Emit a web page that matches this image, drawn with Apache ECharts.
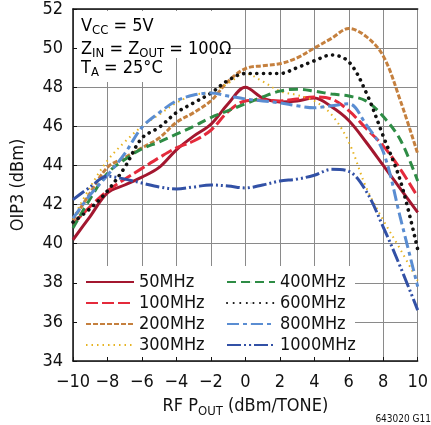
<!DOCTYPE html>
<html><head><meta charset="utf-8">
<script src="https://cdn.jsdelivr.net/npm/echarts@6/dist/echarts.min.js"></script>
<style>html,body{margin:0;padding:0;background:#fff}#c{width:431px;height:425px}</style>
</head><body><div id="c"></div>
<script>
// ---- data ----
const xs = [-10,-9,-8,-7,-6,-5,-4,-3,-2,-1,0,1,2,3,4,5,6,7,8,9,10];
const oip50   = [40.2,41.4,42.6,43.0,43.4,43.9,44.8,45.5,46.1,47.15,48.0,47.45,47.25,47.3,47.45,47.0,46.3,45.2,44.0,42.8,41.6];
const oip100  = [41.0,41.9,42.7,43.3,43.85,44.4,44.9,45.25,45.8,46.75,47.3,47.35,47.3,47.4,47.5,47.4,46.8,45.9,45.0,43.8,42.4];
const oip200  = [41.2,42.6,43.9,44.4,44.9,45.4,46.2,46.7,47.3,48.3,48.95,49.1,49.2,49.5,50.0,50.5,51.0,50.6,49.6,47.3,44.6];
const oip300  = [41.3,42.9,44.25,45.2,46.0,46.6,47.2,47.6,47.75,48.2,48.7,48.3,47.8,47.6,47.3,46.6,45.2,42.9,41.2,39.7,38.1];
const oip400  = [40.8,42.3,43.6,44.3,44.85,45.2,45.6,46.0,46.45,46.8,47.15,47.5,47.8,47.9,47.8,47.65,47.55,47.3,46.5,45.3,43.2];
const oip600  = [41.1,41.8,42.7,43.9,45.4,45.95,46.7,47.2,47.7,48.35,48.7,48.7,48.7,49.0,49.35,49.65,49.3,47.75,45.5,43.2,39.7];
const oip800  = [41.3,42.5,43.5,44.6,45.95,46.7,47.3,47.6,47.7,47.55,47.4,47.3,47.2,47.05,46.95,47.05,47.15,46.1,44.7,41.3,37.8];
const oip1000 = [42.25,42.9,43.45,43.3,43.1,42.9,42.8,42.9,43.0,42.95,42.85,43.0,43.2,43.3,43.5,43.8,43.7,42.7,40.85,38.8,36.6];
const names = ['50MHz','100MHz','200MHz','300MHz','400MHz','600MHz','800MHz','1000MHz'];
const values = [oip50, oip100, oip200, oip300, oip400, oip600, oip800, oip1000];

// ---- styles ----
const FONT = '"Liberation Sans Narrow","DejaVu Sans Condensed",sans-serif';
const styles = [
  {color:'#A3172F', width:3, type:'solid'},
  {color:'#E42A3B', width:3, type:[12,4]},
  {color:'#C5803E', width:3, type:[5,2]},
  {color:'#E6B322', width:2, type:[1.5,4]},
  {color:'#2E8C45', width:3, type:[9,5]},
  {color:'#111111', width:3.6, type:[0.1,6.5], cap:'round'},
  {color:'#5A8DD2', width:3, type:[12,4,4,4]},
  {color:'#3251A6', width:3, type:[14,3,2,3,2,3]}
];

const series = names.map((n,i)=>({
  name:n, type:'line', symbol:'none', smooth:0.35,
  data: xs.map((x,j)=>[x, values[i][j]]),
  lineStyle: Object.assign({}, styles[i]),
  itemStyle: {color: styles[i].color},
  z: 2
}));

const subRich = {
  sub:{fontSize:13, fontFamily:FONT, color:'#111', padding:[10,0,0,0]},
  n:{fontSize:18, fontFamily:FONT, color:'#111'}
};

const legendBase = {
  orient:'vertical', itemWidth:48, itemHeight:1, itemGap:3, selectedMode:false,
  textStyle:{fontFamily:FONT, fontSize:18, color:'#111', lineHeight:18},
  padding:0
};

const chart = echarts.init(document.getElementById('c'), null, {renderer:'canvas'});
chart.setOption({
  animation:false,
  backgroundColor:'#fff',
  grid:{left:73, right:6, top:8, bottom:64},
  xAxis:[{
    type:'value', min:-10, max:10, interval:2,
    axisLine:{onZero:false, lineStyle:{color:'#111', width:1.5}},
    axisTick:{inside:true, length:4, lineStyle:{color:'#111'}},
    splitLine:{lineStyle:{color:'#8a8a8a', width:1}},
    axisLabel:{fontFamily:FONT, fontSize:18, color:'#111', margin:12,
      formatter:v=> v<0 ? '\u2212'+Math.abs(v) : String(v)},
    name:'{n|RF P}{sub|OUT}{n| (dBm/TONE)}', nameLocation:'middle', nameGap:34,
    nameTextStyle:{fontFamily:FONT, fontSize:18, color:'#111', rich:subRich}
  },{
    type:'value', position:'top', min:-10, max:10, interval:2,
    axisLine:{show:true, onZero:false, lineStyle:{color:'#111', width:1.5}},
    axisTick:{show:false}, axisLabel:{show:false}, splitLine:{show:false}
  }],
  yAxis:{
    type:'value', min:34, max:52, interval:2,
    axisLine:{show:true, onZero:false, lineStyle:{color:'#111', width:1.5}},
    axisTick:{show:true, inside:true, length:4, lineStyle:{color:'#111'}},
    splitLine:{lineStyle:{color:'#8a8a8a', width:1}},
    axisLabel:{fontFamily:FONT, fontSize:18, color:'#111', margin:10},
    name:'OIP3 (dBm)', nameLocation:'middle', nameGap:46,
    nameTextStyle:{fontFamily:FONT, fontSize:18, color:'#111'}
  },
  legend:[
    Object.assign({}, legendBase, {data:names.slice(0,4), left:85, top:273}),
    Object.assign({}, legendBase, {data:names.slice(4), left:226, top:273})
  ],
  graphic:[
    {type:'rect', z:1, shape:{x:77, y:266, width:278, height:91}, style:{fill:'#fff'}},
    {type:'rect', z:1, shape:{x:77, y:11, width:151, height:47}, style:{fill:'#fff'}},
    {type:'rect', z:1, shape:{x:77, y:58, width:78, height:24}, style:{fill:'#fff'}},
    {type:'text', z:5, x:81, y:26, style:{text:'{n|V}{sub|CC}{n| = 5V}', rich:subRich, verticalAlign:'middle', font:'18px '+FONT}},
    {type:'text', z:5, x:81, y:49, style:{text:'{n|Z}{sub|IN}{n| = Z}{sub|OUT}{n| = 100\u03A9}', rich:subRich, verticalAlign:'middle', font:'18px '+FONT}},
    {type:'text', z:5, x:81, y:68, style:{text:'{n|T}{sub|A}{n| = 25\u00B0C}', rich:subRich, verticalAlign:'middle', font:'18px '+FONT}},
    {type:'text', z:5, x:431, y:419, style:{text:'643020 G11', align:'right', verticalAlign:'middle', font:'10px '+FONT, fill:'#111'}}
  ],
  series: series
});
</script></body></html>
